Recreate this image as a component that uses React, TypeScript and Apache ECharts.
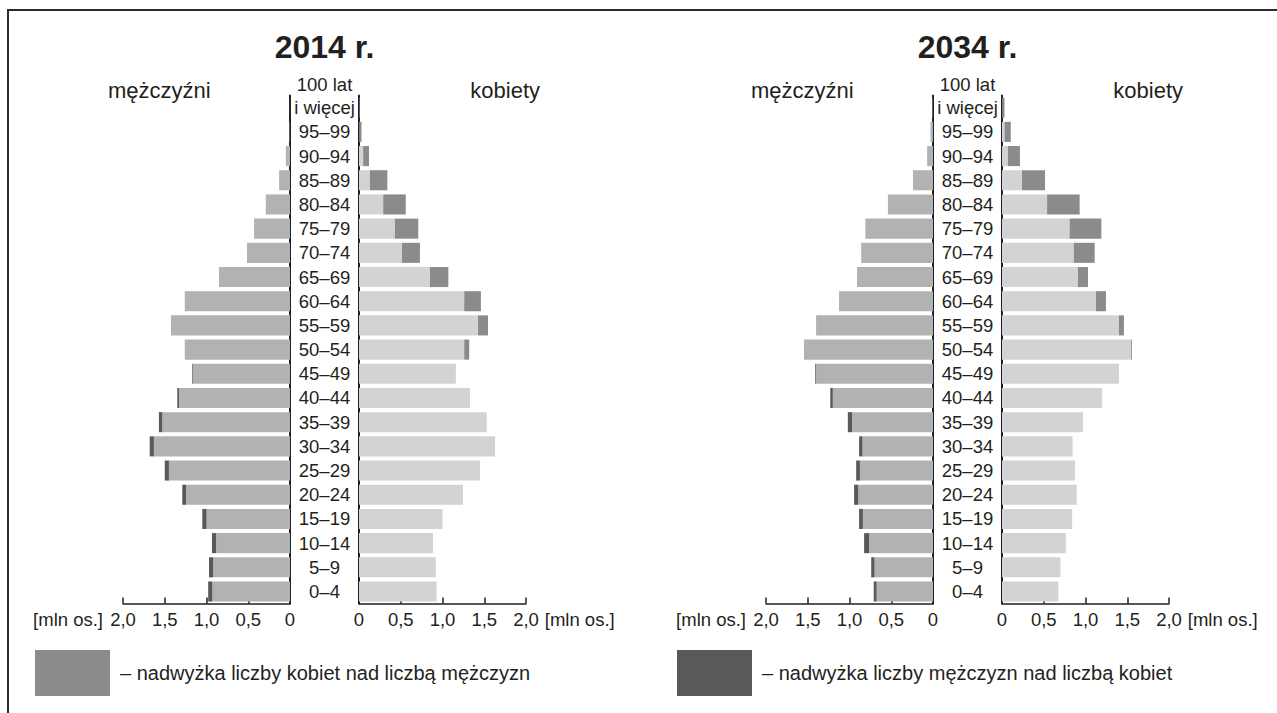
import React, { useEffect, useRef } from "react";
import * as echarts from "echarts";

const ageGroups = [
  "0–4", "5–9", "10–14", "15–19", "20–24", "25–29", "30–34", "35–39", "40–44", "45–49",
  "50–54", "55–59", "60–64", "65–69", "70–74", "75–79", "80–84", "85–89", "90–94", "95–99",
  "100 lat i więcej",
];

// population in millions
const men2014 = [0.98, 0.97, 0.935, 1.05, 1.29, 1.5, 1.68, 1.57, 1.35, 1.17, 1.26, 1.425, 1.26, 0.85, 0.515, 0.43, 0.29, 0.13, 0.05, 0.005, 0.001];
const women2014 = [0.93, 0.92, 0.885, 1.0, 1.245, 1.45, 1.63, 1.53, 1.33, 1.16, 1.32, 1.545, 1.46, 1.07, 0.73, 0.71, 0.56, 0.34, 0.12, 0.03, 0.006];
const men2034 = [0.71, 0.74, 0.825, 0.885, 0.945, 0.92, 0.885, 1.02, 1.23, 1.41, 1.545, 1.4, 1.125, 0.91, 0.86, 0.81, 0.54, 0.24, 0.07, 0.03, 0.005];
const women2034 = [0.675, 0.7, 0.765, 0.84, 0.895, 0.875, 0.845, 0.97, 1.2, 1.4, 1.555, 1.46, 1.245, 1.03, 1.11, 1.19, 0.93, 0.515, 0.215, 0.105, 0.03];

const panelTitles = ["2014 r.", "2034 r."];
const sideLabels = ["mężczyźni", "kobiety"];
const unitLabel = "[mln os.]";
const womenSurplusName = "nadwyżka liczby kobiet nad liczbą mężczyzn";
const menSurplusName = "nadwyżka liczby mężczyzn nad liczbą kobiet";

const FONT = '"Liberation Sans", Arial, Helvetica, sans-serif';
const INK = "#231f20";
const C_MEN = "#b1b2b4";
const C_WOMEN = "#d2d3d5";
const C_WSURPLUS = "#8a8b8d";
const C_MSURPLUS = "#58595b";

export default function App() {
  const ref = useRef<HTMLDivElement>(null);

  useEffect(() => {
    if (!ref.current) return;
    const chart = echarts.init(ref.current, undefined, { renderer: "svg" });

    const panels = [
      { men: men2014, women: women2014, offset: 0, title: panelTitles[0] },
      { men: men2034, women: women2034, offset: 643, title: panelTitles[1] },
    ];
    const top = 95.6;
    const height = 508;
    const W = 167;

    const grids: any[] = [];
    const xAxes: any[] = [];
    const yAxes: any[] = [];
    const series: any[] = [];
    const graphics: any[] = [
      {
        type: "rect",
        shape: { x: 8, y: 10, width: 1400, height: 900 },
        style: { fill: "none", stroke: "#2b2b2b", lineWidth: 2 },
        silent: true,
      },
    ];

    const fmt = (v: number) => (v === 0 ? "0" : v.toFixed(1).replace(".", ","));

    panels.forEach((p, pi) => {
      const o = p.offset;
      const base = p.men.map((m, i) => Math.min(m, p.women[i]));
      const mSur = p.men.map((m, i) => Math.max(m - p.women[i], 0));
      const wSur = p.women.map((w, i) => Math.max(w - p.men[i], 0));
      const gL = pi * 2;
      const gR = pi * 2 + 1;
      grids.push({ left: 123 + o, top, width: W, height });
      grids.push({ left: 359 + o, top, width: W, height });

      const xCommon = (inverse: boolean, gi: number, gap: number) => ({
        type: "value",
        gridIndex: gi,
        min: 0,
        max: 2,
        interval: 0.5,
        inverse,
        position: "bottom",
        axisLine: { show: true, lineStyle: { color: INK, width: 1.5 } },
        axisTick: { show: true, inside: true, length: 6, lineStyle: { color: INK, width: 1.5 } },
        axisLabel: { formatter: fmt, color: INK, fontSize: 18.5, fontFamily: FONT, margin: 6 },
        splitLine: { show: false },
        name: unitLabel,
        nameLocation: "end",
        nameGap: gap,
        nameTextStyle: { color: INK, fontSize: 18.5, fontFamily: FONT, verticalAlign: "top", padding: [6, 0, 0, 0] },
      });
      xAxes.push(xCommon(true, gL, 20));
      xAxes.push(xCommon(false, gR, 17));

      yAxes.push({
        type: "category",
        gridIndex: gL,
        data: ageGroups,
        position: "right",
        axisLine: { show: true, lineStyle: { color: INK, width: 2 } },
        axisTick: { show: false },
        axisLabel: { show: false },
      });
      yAxes.push({
        type: "category",
        gridIndex: gR,
        data: ageGroups,
        position: "left",
        axisLine: { show: true, lineStyle: { color: INK, width: 2 } },
        axisTick: { show: false },
        axisLabel: {
          show: true,
          interval: 0,
          align: "center",
          margin: 34.5,
          color: INK,
          fontSize: 18.5,
          fontFamily: FONT,
          formatter: (v: string) =>
            v === "100 lat i więcej" ? "{a|100 lat}\n{a|i więcej}\n{a| }" : v,
          rich: { a: { fontSize: 18.5, fontFamily: FONT, color: INK, lineHeight: 23.5 } },
        },
      });

      const bar = (name: string, data: number[], xi: number, color: string, stack: string) => ({
        type: "bar",
        name,
        data,
        xAxisIndex: xi,
        yAxisIndex: xi,
        stack: stack + pi,
        barCategoryGap: "17%",
        itemStyle: { color },
        silent: true,
      });
      series.push(bar("men", base, gL, C_MEN, "m"));
      series.push(bar(menSurplusName, mSur, gL, C_MSURPLUS, "m"));
      series.push(bar("women", base, gR, C_WOMEN, "w"));
      series.push(bar(womenSurplusName, wSur, gR, C_WSURPLUS, "w"));

      graphics.push({
        type: "text",
        x: 324.5 + o,
        y: 47,
        style: { text: p.title, fontSize: 32, fontWeight: "bold", fontFamily: FONT, fill: INK, align: "center", verticalAlign: "middle" },
      });
      graphics.push({
        type: "text",
        x: 108 + o,
        y: 90,
        style: { text: sideLabels[0], fontSize: 22, fontFamily: FONT, fill: INK, align: "left", verticalAlign: "middle" },
      });
      graphics.push({
        type: "text",
        x: 540 + o,
        y: 90,
        style: { text: sideLabels[1], fontSize: 22, fontFamily: FONT, fill: INK, align: "right", verticalAlign: "middle" },
      });
    });

    const legendCommon = {
      orient: "horizontal",
      top: 650,
      padding: 0,
      itemWidth: 75,
      itemHeight: 46,
      icon: "rect",
      selectedMode: false,
      formatter: (n: string) => "– " + n,
      textStyle: { color: INK, fontSize: 20, fontFamily: FONT, padding: [0, 0, 0, 5] },
    };

    chart.setOption({
      animation: false,
      backgroundColor: "#ffffff",
      textStyle: { fontFamily: FONT },
      grid: grids,
      xAxis: xAxes,
      yAxis: yAxes,
      series,
      legend: [
        { ...legendCommon, left: 35, data: [womenSurplusName] },
        { ...legendCommon, left: 677, data: [menSurplusName] },
      ],
      graphic: graphics,
    });

    return () => chart.dispose();
  }, []);

  return (
    <div
      ref={ref}
      style={{ position: "fixed", left: 0, top: 0, width: 1277, height: 713, background: "#fff" }}
    />
  );
}
